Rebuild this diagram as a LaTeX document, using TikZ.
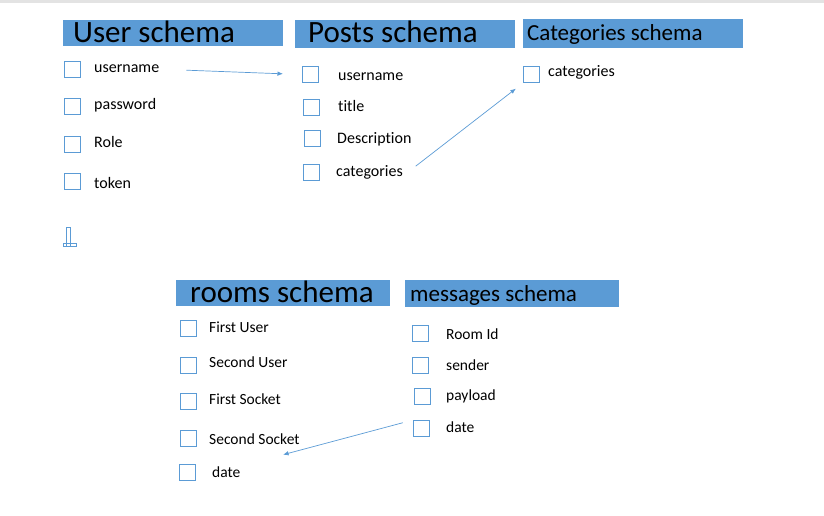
\documentclass[tikz,border=0pt]{standalone}
\usepackage{fontspec}
\setmainfont{Carlito}[Ligatures=NoCommon]
\usetikzlibrary{arrows.meta}
\definecolor{schemablue}{HTML}{5B9BD5}

\begin{document}
\begin{tikzpicture}[x=1pt,y=-1pt,
    bar/.style={fill=schemablue, inner sep=0, anchor=north west},
    title/.style={anchor=base west, inner sep=0, font=\fontsize{31}{37}\selectfont},
    subtitle/.style={anchor=base west, inner sep=0, font=\fontsize{23}{28}\selectfont},
    tickbox/.style={draw=schemablue, line width=1.1pt, minimum size=16pt, inner sep=0, anchor=north west},
    field/.style={anchor=base west, inner sep=0, font=\fontsize{16}{19}\selectfont},
    lowfield/.style={field, font=\fontsize{15.5}{18}\selectfont},
    link/.style={draw=schemablue, line width=0.7pt, -{Latex[length=5.5pt,width=4.5pt]}}
]
\useasboundingbox (0,0) rectangle (824,516);

% Top edge
\fill[gray!22] (0,0) rectangle (824,3);

% User schema
\node[bar, minimum width=220pt, minimum height=25.5pt] (userbar) at (63,20) {};
\node[title] (usertitle) at (73,43) {User schema};
\node[tickbox] (unamebox) at (64,61) {};
\node[tickbox] (upassbox) at (64,98) {};
\node[tickbox] (urolebox) at (64,136) {};
\node[tickbox] (utokenbox) at (64,173) {};
\node[field] (uname) at (94,73) {username};
\node[field] (upass) at (94,110) {password};
\node[field] (urole) at (94,147) {Role};
\node[field] (utoken) at (94,188) {token};

% Posts schema
\node[bar, minimum width=220pt, minimum height=27.5pt] (postbar) at (295,20) {};
\node[title] (posttitle) at (308,43) {Posts schema};
\node[tickbox] (pnamebox) at (302,66) {};
\node[tickbox] (ptitlebox) at (303,99) {};
\node[tickbox] (pdescbox) at (304,130) {};
\node[tickbox] (pcatbox) at (303,164) {};
\node[field] (pname) at (338,81) {username};
\node[field] (ptitle) at (338,112) {title};
\node[field] (pdesc) at (337,143) {Description};
\node[field] (pcat) at (336,176) {categories};

% Categories schema
\node[bar, minimum width=220pt, minimum height=28.5pt] (catbar) at (523,19) {};
\node[subtitle] (cattitle) at (527,41) {Categories schema};
\node[tickbox] (ccatbox) at (523,66) {};
\node[field] (ccat) at (548,77) {categories};

% Cursor mark
\draw[schemablue, line width=0.9pt] (66.5,227.5) rectangle (70,246);
\draw[schemablue, line width=0.9pt] (63.5,243.5) rectangle (76.5,246.5);

% rooms schema
\node[bar, minimum width=214pt, minimum height=26pt] (roombar) at (176,280) {};
\node[title] (roomtitle) at (190,302) {rooms schema};
\node[tickbox] (ruser1box) at (180,320) {};
\node[tickbox] (ruser2box) at (180,357) {};
\node[tickbox] (rsock1box) at (180,393) {};
\node[tickbox] (rsock2box) at (180,430) {};
\node[tickbox] (rdatebox) at (179,464) {};
\node[lowfield] (ruser1) at (209,332) {First User};
\node[lowfield] (ruser2) at (209,367) {Second User};
\node[lowfield] (rsock1) at (209,404) {First Socket};
\node[lowfield] (rsock2) at (209,444) {Second Socket};
\node[lowfield] (rdate) at (212,477) {date};

% messages schema
\node[bar, minimum width=214pt, minimum height=26.5pt] (msgbar) at (405,280) {};
\node[subtitle] (msgtitle) at (410,301) {messages schema};
\node[tickbox] (mroombox) at (412,325) {};
\node[tickbox] (msenderbox) at (412,357) {};
\node[tickbox] (mpayloadbox) at (414,388) {};
\node[tickbox] (mdatebox) at (413,420) {};
\node[lowfield] (mroom) at (446,339) {Room Id};
\node[lowfield] (msender) at (446,370) {sender};
\node[lowfield] (mpayload) at (446,400) {payload};
\node[lowfield] (mdate) at (446,432) {date};

% Links
\draw[link, shorten <=27pt, shorten >=19pt] (uname.east) -- (pnamebox.west);
\draw[link, shorten <=16pt, shorten >=9pt] (pcat.base east) -- (ccatbox.south west);
\draw[link, shorten <=10.6pt, shorten >=44pt] (mdatebox.north west) -- (rdate.north east);

\end{tikzpicture}
\end{document}
